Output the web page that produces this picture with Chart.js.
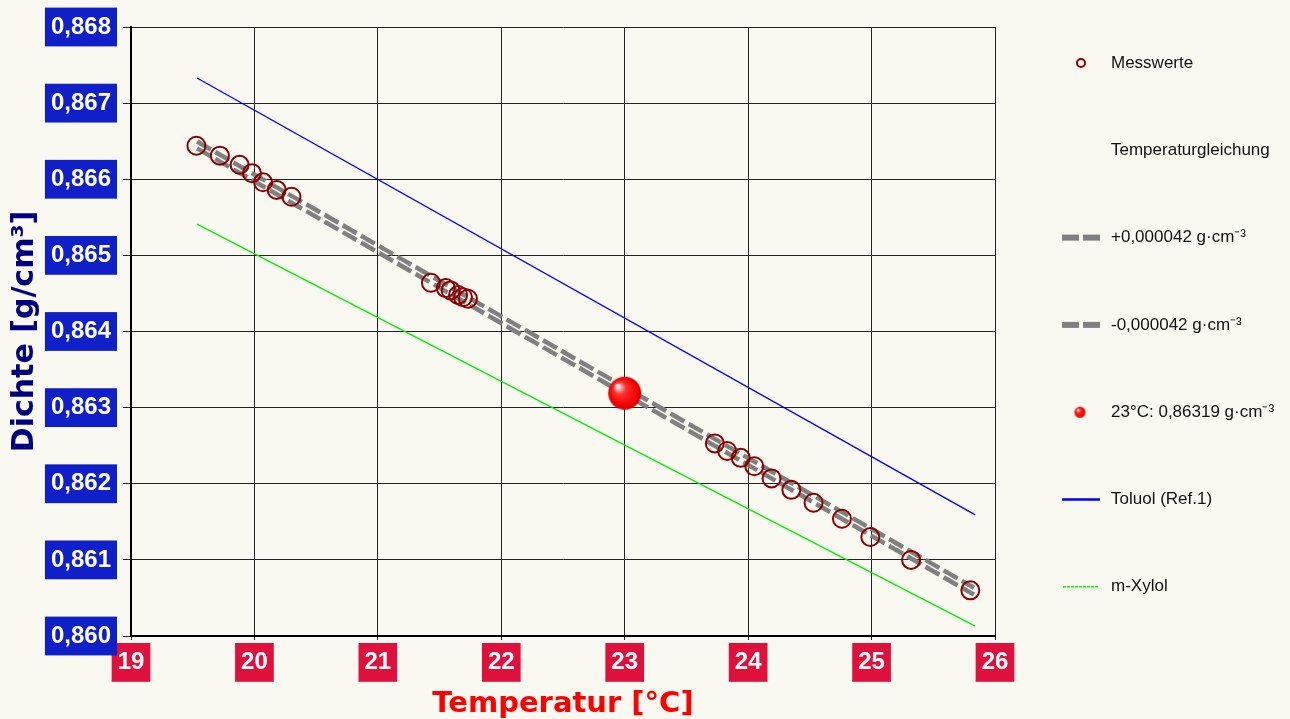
<!DOCTYPE html>
<html>
<head>
<meta charset="utf-8">
<script src="https://cdn.jsdelivr.net/npm/chart.js@4/dist/chart.umd.min.js"></script>
<style>
  html, body { margin: 0; padding: 0; background: #f9f8f1; }
  #wrap { width: 1290px; height: 719px; position: relative; }
</style>
</head>
<body>
<div id="wrap"><canvas id="chart"></canvas></div>
<script>
// tick labels
const xTicks = [19, 20, 21, 22, 23, 24, 25, 26]
const yTicks = [0.860, 0.861, 0.862, 0.863, 0.864, 0.865, 0.866, 0.867, 0.868]

// measured values
const messTemp = [19.53, 19.72, 19.88, 19.98, 20.07, 20.18, 20.30,
  21.43, 21.55, 21.59, 21.65, 21.69, 21.73,
  23.73, 23.83, 23.94, 24.05, 24.19, 24.35, 24.53, 24.76, 24.99, 25.32, 25.80]
const messDens = [0.86644, 0.86631, 0.86619, 0.86608, 0.86596, 0.86586, 0.86577,
  0.86464, 0.86457, 0.86454, 0.86448, 0.86445, 0.86443,
  0.86253, 0.86243, 0.86234, 0.86223, 0.86207, 0.86192, 0.86175, 0.86154, 0.86130, 0.86100, 0.86060]

// tolerance band of the temperature equation
const bandTemp = [19.535, 25.83]
const bandUpper = [0.866495, 0.860633]
const bandLower = [0.866405, 0.860543]

// value at 23 °C
const refTemp = [23]
const refDens = [0.86319]

// reference substances
const toluolTemp = [19.535, 25.84]
const toluolDens = [0.86733, 0.86159]
const xylolTemp = [19.535, 25.84]
const xylolDens = [0.86541, 0.86013]

const legendLabels = ["Messwerte", "Temperaturgleichung", "+0,000042 g·cm⁻³",
  "-0,000042 g·cm⁻³", "23°C: 0,86319 g·cm⁻³", "Toluol (Ref.1)", "m-Xylol"]

const pts = (xs, ys) => xs.map((x, i) => ({ x, y: ys[i] }))

function makeBall(r) {
  const s = Math.ceil(r * 2) + 2
  const c = document.createElement("canvas")
  c.width = s
  c.height = s
  const g = c.getContext("2d")
  const cx = s / 2, cy = s / 2
  const grad = g.createRadialGradient(cx - r * 0.45, cy - r * 0.45, r * 0.05, cx, cy, r)
  grad.addColorStop(0, "#ffffff")
  grad.addColorStop(0.12, "#ffb0b0")
  grad.addColorStop(0.35, "#ff3030")
  grad.addColorStop(0.8, "#f80000")
  grad.addColorStop(1, "#d00000")
  g.fillStyle = grad
  g.beginPath()
  g.arc(cx, cy, r, 0, Math.PI * 2)
  g.fill()
  return c
}

const bigBall = makeBall(16.5)
const smallBall = makeBall(5.5)

const legendPlugin = {
  id: "sideLegend",
  afterDraw(chart) {
    const ctx = chart.ctx
    const sx = 1081, tx = 1111
    const y0 = 63, step = 87.3
    ctx.save()
    legendLabels.forEach((label, i) => {
      const y = y0 + i * step
      ctx.setLineDash([])
      if (i === 0) {
        ctx.strokeStyle = "#8b0000"
        ctx.lineWidth = 2
        ctx.beginPath()
        ctx.arc(sx, y, 4, 0, Math.PI * 2)
        ctx.stroke()
      } else if (i === 2 || i === 3) {
        ctx.fillStyle = "#808080"
        ctx.fillRect(1062, y - 3, 17, 6)
        ctx.fillRect(1083, y - 3, 17, 6)
      } else if (i === 4) {
        ctx.drawImage(smallBall, sx - smallBall.width / 2 - 1, y - smallBall.height / 2)
      } else if (i === 5) {
        ctx.strokeStyle = "#0000ff"
        ctx.lineWidth = 2.5
        ctx.beginPath()
        ctx.moveTo(1062, y)
        ctx.lineTo(1100, y)
        ctx.stroke()
      } else if (i === 6) {
        ctx.strokeStyle = "#00ff00"
        ctx.lineWidth = 1.5
        ctx.setLineDash([3, 1])
        ctx.beginPath()
        ctx.moveTo(1063, y)
        ctx.lineTo(1099, y)
        ctx.stroke()
      }
      ctx.setLineDash([])
      ctx.fillStyle = "#111111"
      ctx.font = '17px "Liberation Sans", Arial, sans-serif'
      ctx.textBaseline = "middle"
      ctx.textAlign = "left"
      ctx.fillText(label, tx, y)
    })
    ctx.restore()
  }
}

const tickFont = { family: '"Liberation Sans", Arial, sans-serif', size: 24, weight: "bold" }

new Chart(document.getElementById("chart"), {
  type: "scatter",
  data: {
    datasets: [
      {
        label: "Messwerte",
        data: pts(messTemp, messDens),
        pointRadius: 9,
        pointBorderWidth: 2,
        pointBorderColor: "#8b0000",
        pointBackgroundColor: "rgba(0,0,0,0)",
        showLine: false
      },
      {
        label: "23°C",
        data: pts(refTemp, refDens),
        pointStyle: bigBall,
        pointRadius: 16,
        showLine: false
      },
      {
        label: "+0,000042",
        data: pts(bandTemp, bandUpper),
        showLine: true,
        borderColor: "#808080",
        borderWidth: 4.5,
        borderDash: [16, 5],
        pointRadius: 0
      },
      {
        label: "-0,000042",
        data: pts(bandTemp, bandLower),
        showLine: true,
        borderColor: "#808080",
        borderWidth: 4.5,
        borderDash: [16, 5],
        pointRadius: 0
      },
      {
        label: "Toluol (Ref.1)",
        data: pts(toluolTemp, toluolDens),
        showLine: true,
        borderColor: "#0000ff",
        borderWidth: 1.4,
        pointRadius: 0
      },
      {
        label: "m-Xylol",
        data: pts(xylolTemp, xylolDens),
        showLine: true,
        borderColor: "#00ee00",
        borderWidth: 1.4,
        pointRadius: 0
      }
    ]
  },
  options: {
    responsive: true,
    maintainAspectRatio: false,
    animation: false,
    events: [],
    layout: { padding: { top: 27, right: 295, left: 0, bottom: 0 } },
    plugins: {
      legend: { display: false },
      tooltip: { enabled: false }
    },
    scales: {
      x: {
        type: "linear",
        min: 19,
        max: 26,
        afterBuildTicks: s => { s.ticks = xTicks.map(v => ({ value: v })) },
        afterFit: s => { s.height = 83 },
        grid: { color: "#222222", lineWidth: 1, tickLength: 4 },
        border: { color: "#000000", width: 2 },
        ticks: {
          font: tickFont,
          color: "#ffffff",
          padding: 8,
          showLabelBackdrop: true,
          backdropColor: "#e0103c",
          backdropPadding: { top: 5, bottom: 5, left: 6, right: 6 },
          maxRotation: 0
        },
        title: {
          display: true,
          text: "Temperatur [°C]",
          color: "#ff0000",
          font: { family: '"DejaVu Sans", Verdana, sans-serif', size: 29, weight: "bold", lineHeight: 1 },
          padding: 0
        }
      },
      y: {
        type: "linear",
        min: 0.860,
        max: 0.868,
        afterBuildTicks: s => { s.ticks = yTicks.map(v => ({ value: v })) },
        afterFit: s => { s.width = 131 },
        grid: { color: "#222222", lineWidth: 1, tickLength: 8 },
        border: { color: "#000000", width: 2 },
        ticks: {
          font: tickFont,
          color: "#ffffff",
          padding: 12,
          showLabelBackdrop: true,
          backdropColor: "#1020c8",
          backdropPadding: { top: 5, bottom: 5, left: 6, right: 6 },
          callback: v => v.toFixed(3).replace(".", ",")
        },
        title: {
          display: true,
          text: "Dichte [g/cm³]",
          color: "#000080",
          font: { family: '"DejaVu Sans", Verdana, sans-serif', size: 30, weight: "bold", lineHeight: 1.2 },
          padding: 7
        }
      }
    }
  },
  plugins: [legendPlugin]
})
</script>
</body>
</html>
